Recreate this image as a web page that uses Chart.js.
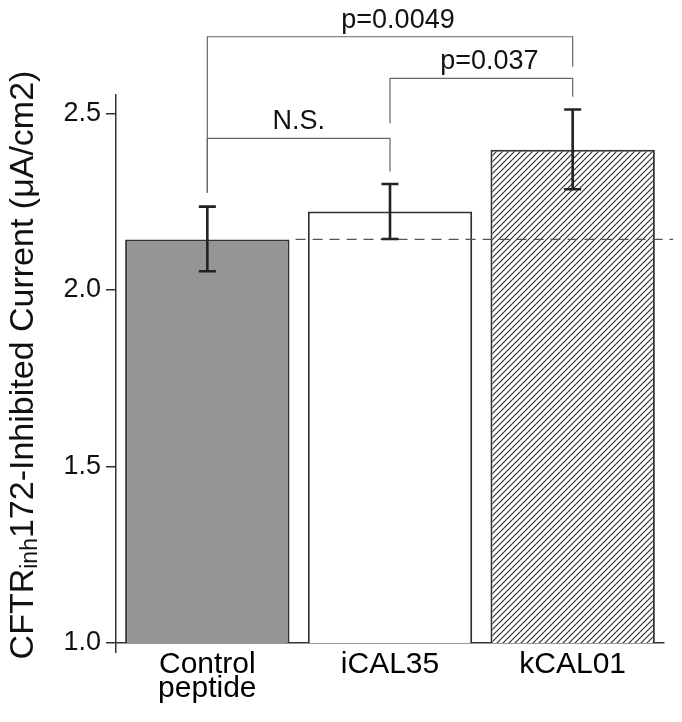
<!DOCTYPE html>
<html>
<head>
<meta charset="utf-8">
<script src="https://cdn.jsdelivr.net/npm/chart.js@4.4.0/dist/chart.umd.min.js"></script>
<style>
    html, body { margin: 0; padding: 0; background: #fff; }
    #myChart { display: block; }
</style>
</head>
<body>
<canvas id="myChart" width="682" height="722"></canvas>
<script>
// data
const categories = [['Control', 'peptide'], 'iCAL35', 'kCAL01'];
const means = [2.143, 2.222, 2.397];
const errLow = [2.053, 2.144, 2.285];
const errHigh = [2.236, 2.300, 2.511];
const yTicks = [1.0, 1.5, 2.0, 2.5];
// significance brackets: category indexes, bar height of the bracket, leg ends, text
const bracketFrom = [0, 1, 0];
const bracketTo = [1, 2, 2];
const bracketTop = [2.429, 2.599, 2.717];
const bracketLeftEnd = [2.275, 2.472, 2.275];
const bracketRightEnd = [2.335, 2.547, 2.632];
const bracketText = ['N.S.', 'p=0.037', 'p=0.0049'];

const FONT = '"Liberation Sans", Arial, sans-serif';

function hatch() {
    let c = document.createElement('canvas');
    c.width = 6;
    c.height = 6;
    let g = c.getContext('2d');
    g.fillStyle = '#fff';
    g.fillRect(0, 0, 6, 6);
    g.strokeStyle = '#2a2a2a';
    g.lineWidth = 1.1;
    g.beginPath();
    g.moveTo(-1, 7); g.lineTo(7, -1);
    g.moveTo(-4, 4); g.lineTo(4, -4);
    g.moveTo(2, 10); g.lineTo(10, 2);
    g.stroke();
    return g.createPattern(c, 'repeat');
}

const extras = {
    id: 'extras',
    afterDatasetsDraw(chart) {
        let ctx = chart.ctx;
        let x = chart.scales.x;
        let y = chart.scales.y;
        let bars = chart.getDatasetMeta(0).data;
        ctx.save();

        // dashed reference line at control level
        ctx.strokeStyle = '#555';
        ctx.lineWidth = 1.2;
        ctx.setLineDash([10, 7]);
        ctx.beginPath();
        let yr = y.getPixelForValue(means[0]);
        ctx.moveTo(bars[0].x + bars[0].width / 2 + 6, yr);
        ctx.lineTo(chart.chartArea.right + 9, yr);
        ctx.stroke();
        ctx.setLineDash([]);

        // error bars
        ctx.strokeStyle = '#222';
        ctx.lineWidth = 2.6;
        for (let i = 0; i < means.length; i++) {
            let cx = x.getPixelForValue(i);
            let lo = y.getPixelForValue(errLow[i]);
            let hi = y.getPixelForValue(errHigh[i]);
            ctx.beginPath();
            ctx.moveTo(cx, lo); ctx.lineTo(cx, hi);
            ctx.moveTo(cx - 8.5, lo); ctx.lineTo(cx + 8.5, lo);
            ctx.moveTo(cx - 8.5, hi); ctx.lineTo(cx + 8.5, hi);
            ctx.stroke();
        }

        // brackets
        ctx.strokeStyle = '#666';
        ctx.lineWidth = 1.2;
        ctx.fillStyle = '#111';
        ctx.font = '27px ' + FONT;
        ctx.textAlign = 'center';
        ctx.textBaseline = 'alphabetic';
        for (let i = 0; i < bracketText.length; i++) {
            let x1 = x.getPixelForValue(bracketFrom[i]);
            let x2 = x.getPixelForValue(bracketTo[i]);
            let yt = y.getPixelForValue(bracketTop[i]);
            ctx.beginPath();
            ctx.moveTo(x1, y.getPixelForValue(bracketLeftEnd[i]));
            ctx.lineTo(x1, yt);
            ctx.lineTo(x2, yt);
            ctx.lineTo(x2, y.getPixelForValue(bracketRightEnd[i]));
            ctx.stroke();
            let shift = bracketText[i] === 'N.S.' ? 0 : 8;
            ctx.fillText(bracketText[i], (x1 + x2) / 2 + shift, yt - 9);
        }

        // y axis title with subscript
        ctx.translate(33, 365);
        ctx.rotate(-Math.PI / 2);
        ctx.textAlign = 'left';
        let big = '34px ' + FONT;
        let small = '23px ' + FONT;
        let parts = [['CFTR', big, 0], ['inh', small, 4], ['172-Inhibited Current (\u03bcA/cm2)', big, 0]];
        let total = 0;
        parts.forEach(function(p) { ctx.font = p[1]; total += ctx.measureText(p[0]).width; });
        let pos = -total / 2;
        parts.forEach(function(p) {
            ctx.font = p[1];
            ctx.fillText(p[0], pos, p[2]);
            pos += ctx.measureText(p[0]).width;
        });
        ctx.restore();
    }
};

function chart() {
    let ctx = document.getElementById('myChart');
    let myChart = new Chart(ctx, {
        type: 'bar',
        data: {
            labels: categories,
            datasets: [{
                data: means,
                backgroundColor: ['#959595', '#ffffff', hatch()],
                borderColor: '#333',
                borderWidth: 2,
                borderSkipped: false,
                barPercentage: 0.9,
                categoryPercentage: 1.0
            }]
        },
        options: {
            responsive: false,
            animation: false,
            devicePixelRatio: 1,
            layout: { padding: { top: 95, right: 18, left: 0, bottom: 0 } },
            plugins: { legend: { display: false }, tooltip: { enabled: false } },
            scales: {
                x: {
                    afterFit: function(s) { s.height = 79; },
                    border: { color: '#333', width: 1.5 },
                    grid: {
                        drawOnChartArea: false,
                        tickLength: 10,
                        lineWidth: 1.5,
                        color: function(c) { return c.index === 0 ? '#333' : 'rgba(0,0,0,0)'; }
                    },
                    ticks: {
                        color: '#000',
                        padding: 0,
                        maxRotation: 0,
                        font: { family: FONT, size: 30, lineHeight: 0.8 }
                    }
                },
                y: {
                    min: 1.0,
                    max: 2.552,
                    afterFit: function(s) { s.width = 116; },
                    afterBuildTicks: function(s) { s.ticks = yTicks.map(function(v) { return { value: v }; }); },
                    border: { color: '#333', width: 1.5 },
                    grid: { drawOnChartArea: false, tickLength: 10, lineWidth: 1.5, color: '#333' },
                    ticks: {
                        color: '#111',
                        padding: 5,
                        font: { family: FONT, size: 27 },
                        callback: function(v) { return v.toFixed(1); }
                    }
                }
            }
        },
        plugins: [extras]
    });
}

chart();
</script>
</body>
</html>
